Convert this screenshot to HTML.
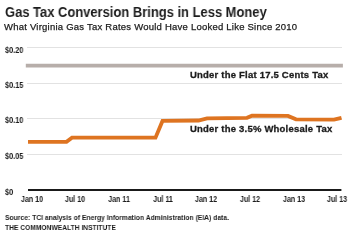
<!DOCTYPE html>
<html><head><meta charset="utf-8">
<style>
html,body{margin:0;padding:0;background:#fff;width:351px;height:235px;overflow:hidden;position:relative;}
.t{position:absolute;will-change:transform;white-space:nowrap;font-family:"Liberation Sans",sans-serif;color:#1c1c1c;line-height:1;}
.title{left:5px;top:5px;font-size:14px;font-weight:bold;transform-origin:0 0;transform:scaleX(0.925);}
.sub{left:4px;top:22px;font-size:9.5px;letter-spacing:0.23px;-webkit-text-stroke:0.25px #1c1c1c;}
.yl{left:5px;font-size:8.4px;font-weight:bold;transform-origin:0 0;transform:scaleX(0.875);}
.xl{font-size:8.4px;font-weight:bold;transform-origin:50% 0;transform:translateX(-50%) scaleX(0.85);}
.ser{left:190px;font-size:9.5px;font-weight:bold;letter-spacing:0.21px;-webkit-text-stroke:0.3px #1c1c1c;}
.foot{left:5px;font-size:8px;transform-origin:0 0;}
svg{position:absolute;left:0;top:0;}
</style></head><body>
<svg width="351" height="235" viewBox="0 0 351 235">
  <g stroke="#e2e2e2" stroke-width="1" shape-rendering="crispEdges">
    <line x1="27" y1="47.5" x2="341.5" y2="47.5"/>
    <line x1="27" y1="83.5" x2="341.5" y2="83.5"/>
    <line x1="27" y1="118.5" x2="341.5" y2="118.5"/>
    <line x1="27" y1="154.5" x2="341.5" y2="154.5"/>
  </g>
  <line x1="28" y1="190" x2="341.4" y2="190" stroke="#1a1a1a" stroke-width="2"/>
  <line x1="27.7" y1="65.6" x2="341" y2="65.6" stroke="#b7aeaa" stroke-width="3.8" stroke-linecap="square"/>
  <polyline fill="none" stroke="#de7421" stroke-width="3.8" stroke-linejoin="miter"
    points="28,141.8 66.5,141.8 72,137.7 155.5,137.7 162.5,120.9 198.5,120.5 207,118.3 247,117.8 252,115.7 288,115.9 296,119.3 334,119.6 341.5,117.8"/>
</svg>
<div class="t title">Gas Tax Conversion Brings in Less Money</div>
<div class="t sub">What Virginia Gas Tax Rates Would Have Looked Like Since 2010</div>

<div class="t yl" style="top:46px">$0.20</div>
<div class="t yl" style="top:81px">$0.15</div>
<div class="t yl" style="top:116px">$0.10</div>
<div class="t yl" style="top:152px">$0.05</div>
<div class="t yl" style="top:188px">$0</div>

<div class="t xl" style="left:31.7px;top:195px">Jan 10</div>
<div class="t xl" style="left:75.4px;top:195px">Jul 10</div>
<div class="t xl" style="left:119px;top:195px">Jan 11</div>
<div class="t xl" style="left:162.7px;top:195px">Jul 11</div>
<div class="t xl" style="left:206.4px;top:195px">Jan 12</div>
<div class="t xl" style="left:250px;top:195px">Jul 12</div>
<div class="t xl" style="left:293.7px;top:195px">Jan 13</div>
<div class="t xl" style="left:337.4px;top:195px">Jul 13</div>

<div class="t ser" style="top:70px">Under the Flat 17.5 Cents Tax</div>
<div class="t ser" style="top:124px">Under the 3.5% Wholesale Tax</div>

<div class="t foot" style="top:214px;font-weight:bold;transform:scaleX(0.848)">Source: TCI analysis of Energy Information Administration (EIA) data.</div>
<div class="t foot" style="top:224px;font-weight:bold;transform:scaleX(0.835)">THE COMMONWEALTH INSTITUTE</div>
</body></html>
